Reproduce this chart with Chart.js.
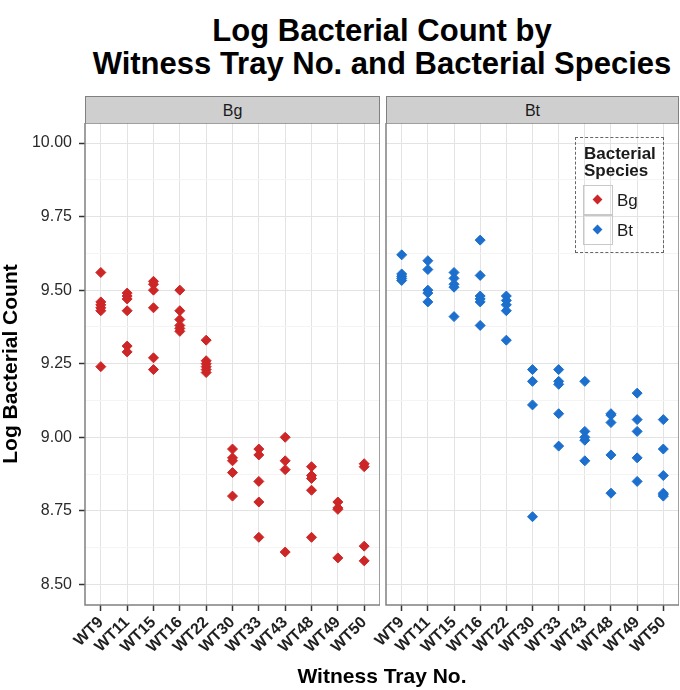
<!DOCTYPE html>
<html>
<head>
<meta charset="utf-8">
<script src="https://cdn.jsdelivr.net/npm/chart.js@4.4.1/dist/chart.umd.min.js"></script>
<style>
    body { margin: 0; background: #fff; font-family: "Liberation Sans", Arial, sans-serif; }
    #wrap { position: relative; width: 680px; height: 690px; overflow: hidden; }
    .abs { position: absolute; }
    .title { left: 0; width: 764px; text-align: center; font-weight: bold; font-size: 31px; color: #000; line-height: 33px; }
    .strip { top: 96px; height: 27px; background: #cfcfcf; border: 1.5px solid #808080; border-bottom: none;
             box-sizing: border-box; text-align: center; font-size: 16px; line-height: 27px; color: #1a1a1a; }
    .legend { left: 575px; top: 137px; width: 89px; height: 116px; border: 1.5px dashed #666; box-sizing: border-box; }
    .leg-title { left: 8px; top: 7px; font-weight: bold; font-size: 17px; line-height: 17px; color: #1a1a1a; }
    .key { left: 7px; width: 30px; height: 30px; border: 1px solid #c8c8c8; box-sizing: border-box; }
    .key span { position: absolute; left: 10px; top: 10px; width: 7px; height: 7px; transform: rotate(45deg); }
    .key-label { left: 41px; font-size: 17px; color: #1a1a1a; }
</style>
</head>
<body>
<div id="wrap">
    <div class="abs title" style="top: 14px;">Log Bacterial Count by</div>
    <div class="abs title" style="top: 47px;">Witness Tray No. and Bacterial Species</div>

    <div class="abs strip" style="left: 85px; width: 295px;">Bg</div>
    <div class="abs strip" style="left: 386px; width: 293px;">Bt</div>

    <div class="abs" style="left: 0; top: 123px; width: 380px; height: 545px;"><canvas id="bgChart"></canvas></div>
    <div class="abs" style="left: 356px; top: 123px; width: 323px; height: 545px;"><canvas id="btChart"></canvas></div>

    <div class="abs" style="left: -90px; top: 352px; width: 200px; text-align: center; transform: rotate(-90deg);
         font-weight: bold; font-size: 21px; color: #000;">Log Bacterial Count</div>
    <div class="abs" style="left: 85px; top: 664px; width: 594px; text-align: center; font-weight: bold;
         font-size: 21px; color: #000;">Witness Tray No.</div>

    <div class="abs legend">
        <div class="abs leg-title">Bacterial<br>Species</div>
        <div class="abs key" style="top: 47px;"><span style="background: #cd2626;"></span></div>
        <div class="abs key" style="top: 77px;"><span style="background: #1c6fcc;"></span></div>
        <div class="abs key-label" style="top: 53px;">Bg</div>
        <div class="abs key-label" style="top: 83px;">Bt</div>
    </div>
</div>

<script>
// --- data ---
const trays = ["WT9", "WT11", "WT15", "WT16", "WT22", "WT30", "WT33", "WT43", "WT48", "WT49", "WT50"];

const bgCounts = [
    [9.56, 9.46, 9.45, 9.44, 9.43, 9.24],
    [9.49, 9.48, 9.47, 9.43, 9.31, 9.29],
    [9.53, 9.52, 9.50, 9.44, 9.27, 9.23],
    [9.50, 9.43, 9.40, 9.38, 9.37, 9.36],
    [9.33, 9.26, 9.25, 9.24, 9.23, 9.22],
    [8.96, 8.93, 8.92, 8.88, 8.80],
    [8.96, 8.94, 8.85, 8.78, 8.66],
    [9.00, 8.92, 8.89, 8.61],
    [8.90, 8.87, 8.86, 8.82, 8.66],
    [8.78, 8.76, 8.755, 8.59],
    [8.91, 8.90, 8.63, 8.58]
];

const btCounts = [
    [9.62, 9.555, 9.547, 9.54, 9.533],
    [9.60, 9.57, 9.50, 9.49, 9.46],
    [9.56, 9.54, 9.52, 9.51, 9.41],
    [9.67, 9.55, 9.48, 9.47, 9.46, 9.38],
    [9.48, 9.465, 9.45, 9.43, 9.33],
    [9.23, 9.19, 9.11, 8.73],
    [9.23, 9.19, 9.18, 9.08, 8.97],
    [9.19, 9.02, 9.00, 8.99, 8.92],
    [9.08, 9.075, 9.05, 8.94, 8.81],
    [9.15, 9.06, 9.02, 8.93, 8.85],
    [9.06, 8.96, 8.87, 8.81, 8.805, 8.80]
];

const yTicks = [8.5, 8.625, 8.75, 8.875, 9.0, 9.125, 9.25, 9.375, 9.5, 9.625, 9.75, 9.875, 10.0];

const BG_COLOR = "#cd2626";
const BT_COLOR = "#1c6fcc";

Chart.defaults.font.family = '"Liberation Sans", Arial, sans-serif';
Chart.defaults.animation = false;

function isMajor(v) {
    return Math.abs(v * 4 - Math.round(v * 4)) < 1e-6;
}

function toPoints(counts) {
    return counts.flatMap((vals, i) => vals.map((v) => ({ x: i, y: v })));
}

// panel border drawn round the plot area
const panelBorder = {
    id: "panelBorder",
    afterDraw(chart) {
        const { ctx, chartArea } = chart;
        ctx.save();
        ctx.strokeStyle = "#808080";
        ctx.lineWidth = 1.5;
        ctx.strokeRect(chartArea.left, chartArea.top, chartArea.right - chartArea.left, chartArea.bottom - chartArea.top);
        ctx.restore();
    }
};

function buildPanel(canvasId, counts, color, showY) {
    return new Chart(document.getElementById(canvasId), {
        type: "scatter",
        data: {
            datasets: [{
                data: toPoints(counts),
                pointStyle: "rectRot",
                radius: 5,
                backgroundColor: color,
                borderColor: color,
                borderWidth: 1
            }]
        },
        options: {
            responsive: true,
            maintainAspectRatio: false,
            layout: { padding: 0, autoPadding: false },
            plugins: { legend: { display: false }, tooltip: { enabled: false } },
            scales: {
                x: {
                    type: "linear",
                    min: -0.6,
                    max: 10.6,
                    afterBuildTicks: (scale) => { scale.ticks = trays.map((t, i) => ({ value: i })); },
                    afterFit: (scale) => { scale.height = 63; scale.paddingLeft = 0; scale.paddingRight = 0; },
                    ticks: {
                        callback: (v) => trays[v],
                        minRotation: 45,
                        maxRotation: 45,
                        autoSkip: false,
                        padding: 2,
                        color: "#1f1f1f",
                        font: { size: 16, weight: "bold" }
                    },
                    grid: { color: "#e3e3e3", lineWidth: 1, tickLength: 6, tickColor: "#333", tickWidth: 1.5 },
                    border: { display: false }
                },
                y: {
                    type: "linear",
                    min: 8.43,
                    max: 10.068,
                    afterBuildTicks: (scale) => { scale.ticks = yTicks.map((v) => ({ value: v })); },
                    afterFit: (scale) => { scale.width = showY ? 85 : 30; scale.paddingTop = 0; scale.paddingBottom = 0; },
                    ticks: {
                        display: showY,
                        callback: (v) => (isMajor(v) ? v.toFixed(2) : ""),
                        padding: 7,
                        color: "#2a2a2a",
                        font: { size: 16 }
                    },
                    grid: {
                        color: (ctx) => (isMajor(ctx.tick.value) ? "#e3e3e3" : "#f4f4f4"),
                        lineWidth: 1,
                        drawTicks: showY,
                        tickLength: 6,
                        tickWidth: 1.5,
                        tickColor: (ctx) => (isMajor(ctx.tick.value) ? "#333" : "rgba(0,0,0,0)")
                    },
                    border: { display: false }
                }
            }
        },
        plugins: [panelBorder]
    });
}

buildPanel("bgChart", bgCounts, BG_COLOR, true);
buildPanel("btChart", btCounts, BT_COLOR, false);
</script>
</body>
</html>
